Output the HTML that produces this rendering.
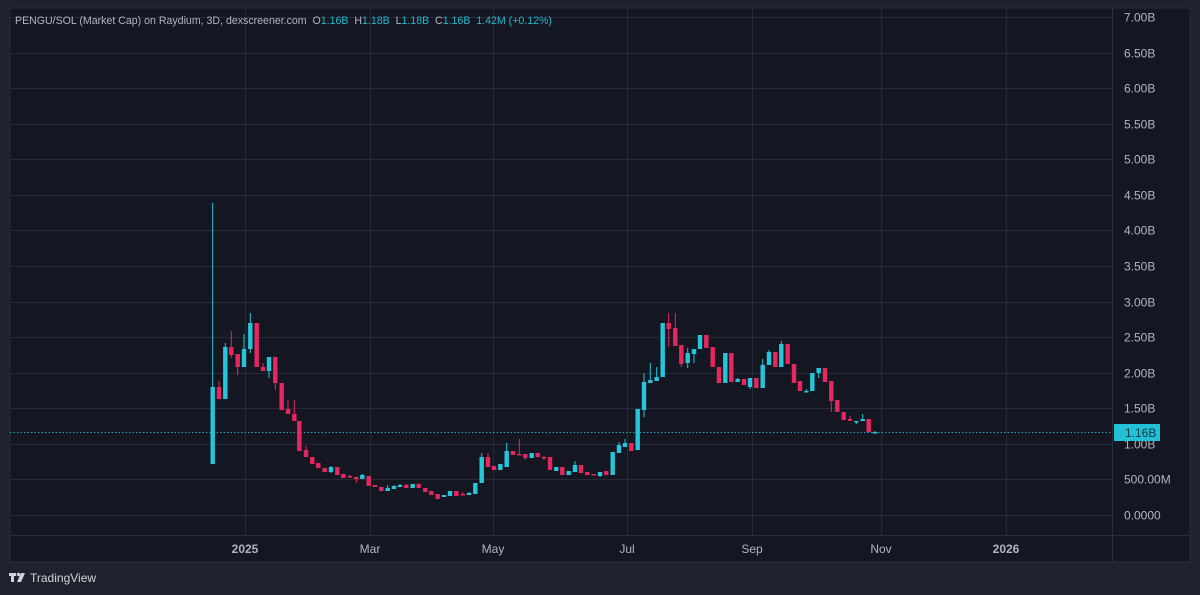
<!DOCTYPE html>
<html><head><meta charset="utf-8"><style>
html,body{margin:0;padding:0;background:#1f222c;width:1200px;height:595px;overflow:hidden;font-family:"Liberation Sans",sans-serif}
svg{position:absolute;left:0;top:0}
</style></head><body>
<svg width="1200" height="595" xmlns="http://www.w3.org/2000/svg" id="s">
<rect x="0" y="0" width="1200" height="595" fill="#1f222c"/>
<rect x="10" y="8" width="1180" height="554" fill="#141722" stroke="#2a2e39" stroke-width="1"/>
<g id="grid" stroke="#252a36" stroke-width="1"></g>
<line x1="10" y1="535.5" x2="1190" y2="535.5" stroke="#2a2e39"/>
<line x1="1112.5" y1="8" x2="1112.5" y2="562" stroke="#2a2e39"/>
<line x1="10" y1="432.5" x2="1112" y2="432.5" stroke="#26c6da" stroke-width="1" stroke-dasharray="1.5,2" opacity="0.8"/>
<g id="candles"></g>
<g id="ylab" font-size="12" fill="#b2b5be"></g>
<rect x="1114" y="424" width="46" height="17" fill="#22c1d6"/>
<text x="1125" y="437" font-size="12" fill="#0f3a44">1.16B</text>
<g font-size="12" font-weight="bold" fill="#b2b5be" text-anchor="middle">
<text x="245" y="553">2025</text><text x="370" y="553" font-weight="normal">Mar</text><text x="493" y="553" font-weight="normal">May</text><text x="627" y="553" font-weight="normal">Jul</text><text x="752" y="553" font-weight="normal">Sep</text><text x="881" y="553" font-weight="normal">Nov</text><text x="1006" y="553">2026</text>
</g>
<text x="15" y="24" font-size="10.6" fill="#b2b5be" xml:space="preserve">PENGU/SOL (Market Cap) on Raydium, 3D, dexscreener.com  O<tspan fill="#22b8cc">1.16B</tspan>  H<tspan fill="#22b8cc">1.18B</tspan>  L<tspan fill="#22b8cc">1.18B</tspan>  C<tspan fill="#22b8cc">1.16B</tspan>  <tspan fill="#22b8cc">1.42M (+0.12%)</tspan></text>
<rect x="9" y="573" width="7" height="3" fill="#d1d4dc"/><rect x="11" y="573" width="3" height="9" fill="#d1d4dc"/><circle cx="18.5" cy="574.5" r="1.7" fill="#d1d4dc"/><polygon points="21,573 25,573 21,582 17,582" fill="#d1d4dc"/>
<text x="30" y="582" font-size="12" fill="#d1d4dc">TradingView</text>
</svg>
<script>
var ns="http://www.w3.org/2000/svg";
function el(p,t,a,txt){var e=document.createElementNS(ns,t);for(var k in a)e.setAttribute(k,a[k]);if(txt)e.textContent=txt;p.appendChild(e);return e;}
var g=document.getElementById('grid'),yl=document.getElementById('ylab');
var labs=["0.0000","500.00M","1.00B","1.50B","2.00B","2.50B","3.00B","3.50B","4.00B","4.50B","5.00B","5.50B","6.00B","6.50B","7.00B"];
for(var i=0;i<15;i++){var y=Math.round(515-i*35.57)+0.5;el(g,'line',{x1:10,y1:y,x2:1112,y2:y});el(yl,'text',{x:1124,y:y+4},labs[i]);}
[245,370,493,627,752,881,1006].forEach(function(x){el(g,'line',{x1:x+.5,y1:8,x2:x+.5,y2:535});});
var U="#26c6da",D="#e8265e";
var c=[
[212.7,464,387,203,464],[219,387,399,381,399],[225.3,399,347,343,399],[231.3,347,355,331,358],[237.7,354,367,354,375],
[244,367,349,334,367],[250.3,349,323,313,353],[256.7,323,367,323,367],[263,367,371,363,371],[269,371,357,357,378],
[275.3,357,383,357,390],[281.7,383,410,383,410],[288,409,414,400,414],[294.3,414,421,400,421],[299.3,421,451,421,451],
[306,450,457,446,457],[312.3,457,464,457,464],[318.3,463,468,463,468],[324.7,468,472,468,472],[331,472,467,466,473],
[337.3,467,475,467,475],[343.3,474,478,474,478],[350,476,477,475,478],[356.3,477,479,477,483],[362.3,479,475,474,479],
[368.7,476,486,476,486],[375,485,487,485,487],[381.3,487,491,487,491],[387.7,491,488,485,491],[394,489,486,485,489],
[400,487,485,484,487],[406.3,485,488,484,488],[412.7,488,484,484,488],[418.7,484,488,483,488],[425.3,488,492,488,492],
[431.3,491,495,491,495],[437.7,494,499,494,499],[444,497,495,495,497],[450,496,491,491,496],[456.3,491,496,491,496],
[462.7,494,495,492,495],[469,495,493,492,495],[475.3,494,483,483,494],[481.7,483,457,453,483],[488,457,467,453,467],
[494,466,470,466,470],[500.3,470,464,464,470],[506.7,467,451,443,467],[513,451,455,451,455],[519.3,454,455,439,455],
[525.3,454,458,454,460],[531.7,458,453,453,458],[537.7,453,457,453,457],[544,457,458,456,460],[550,457,470,457,470],
[556.3,471,467,467,471],[562.3,467,475,467,475],[568.7,475,471,471,475],[575,472,465,461,472],[581,465,473,465,473],
[587.3,472,475,472,475],[593.7,474,475,474,475],[600,476,472,472,477],[606.3,471,475,471,475],[612.7,475,452,452,475],
[619,453,445,442,453],[625,447,443,439,447],[631.3,443,451,443,451],[637.7,450,409,409,450],[644,410,382,373,417],
[650.3,383,380,363,383],[656.7,381,377,367,381],[662.7,377,323,323,377],[668.7,323,329,313,347],[675.3,328,346,313,346],
[681.3,345,364,345,367],[687.7,363,353,348,368],[694,354,349,349,363],[700,349,335,335,349],[706.3,335,348,335,348],
[712.7,347,367,347,367],[719,367,383,367,383],[725.3,383,353,353,383],[731.3,353,382,353,382],[737.7,382,379,378,382],
[744,379,385,379,385],[750,387,378,378,389],[756.3,378,388,378,388],[762.7,388,365,359,388],[769,365,352,350,365],
[775.3,352,367,352,367],[781.3,367,344,341,367],[787.7,344,364,344,364],[794,364,383,364,383],[800,381,391,381,391],
[806.3,391,391,389,391],[812.3,391,373,373,391],[818.7,373,368,368,378],[825,368,382,368,382],[831.3,381,401,381,412],
[837.3,400,412,400,412],[843.7,412,420,412,420],[850,419,421,416,421],[856.3,421,421,421,424],[862.7,421,419,414,421],
[868.7,419,432,419,432],[875,432,432,431,433]
];
var cg=document.getElementById('candles');
c.forEach(function(k){var x=k[0],o=k[1],cl=k[2],h=k[3],l=k[4];var col=cl<o?U:(cl>o?D:U);
el(cg,'line',{x1:x,y1:h,x2:x,y2:l,stroke:col,'stroke-width':1});
var t=Math.min(o,cl),b=Math.max(o,cl);if(b-t<1.5){b=t+1.5;}
el(cg,'rect',{x:x-2.2,y:t,width:4.4,height:b-t,fill:col});});
</script>
</body></html>
